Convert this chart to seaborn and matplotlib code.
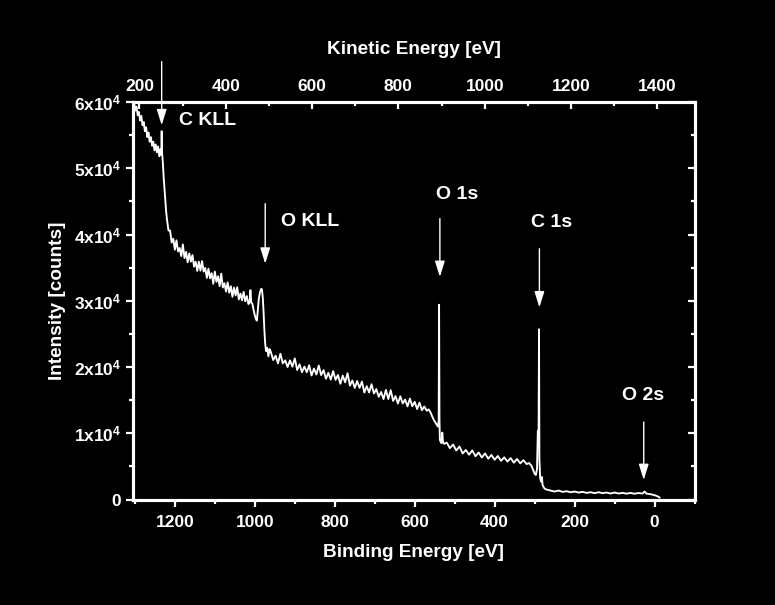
import matplotlib
matplotlib.use("Agg")
import matplotlib.pyplot as plt
import numpy as np
import pandas as pd
import seaborn as sns
from matplotlib.ticker import MultipleLocator, FuncFormatter

# ---------------- data ----------------
binding_energy = [
    1302, 1299, 1296, 1293, 1290, 1287, 1284, 1281, 1278, 1275, 1272, 1269, 1266, 1263,
    1260, 1257, 1254, 1251, 1248, 1245, 1242, 1239, 1236, 1234, 1233, 1232, 1230, 1228,
    1226, 1224, 1222, 1220, 1218, 1216,
    1212, 1208, 1204, 1200, 1196, 1192, 1188, 1184, 1180, 1176, 1172, 1168, 1164, 1160,
    1156, 1152, 1148, 1144, 1140, 1136, 1132, 1128, 1124, 1120, 1116, 1112, 1108, 1104,
    1100, 1096, 1092, 1088, 1084, 1080, 1076, 1072, 1068, 1064, 1060, 1056, 1052, 1048,
    1044, 1040, 1036, 1032, 1028, 1024, 1020, 1016,
    1013, 1011, 1009, 1006, 1003, 1000, 997, 995, 993, 990, 987, 984, 982, 980, 978,
    976, 974, 972, 969, 966, 963,
    960, 954, 948, 942, 936, 930, 924, 918, 912, 906, 900, 894, 888, 882, 876, 870,
    864, 858, 852, 846, 840, 834, 828, 822, 816, 810, 804, 798, 792, 786, 780, 774,
    768, 762, 756, 750, 744, 738, 732, 726, 720, 714, 708, 702, 696, 690, 684, 678,
    672, 666, 660, 654, 648, 642, 636, 630, 624, 618, 612, 606, 600, 594, 588, 582,
    576, 570, 565, 560, 556, 552, 548, 545, 542, 540, 539, 538, 537, 535, 533, 531,
    529, 526,
    520, 512, 504, 496, 488, 480, 472, 464, 456, 448, 440, 432, 424, 416, 408, 400,
    392, 384, 376, 368, 360, 352, 344, 336, 328, 320, 314, 308, 304, 300, 297, 294,
    292, 290, 289, 288, 286, 284, 282, 280, 277, 274,
    270, 260, 250, 240, 230, 220, 210, 200, 190, 180, 170, 160, 150, 140, 130, 120,
    110, 100, 90, 80, 70, 60, 50, 40, 30, 25, 20, 10, 0, -5, -10, -13,
]
intensity = [
    59900, 58700, 59300, 58000, 58500, 57200, 57900, 56500, 57000, 55600, 56200, 54700, 55400, 54000,
    54700, 53400, 54000, 52700, 53600, 52400, 53300, 51800, 52900, 52000, 55600, 52400, 50800, 48600,
    46900, 45100, 43600, 42400, 41500, 40600,
    40600, 38780, 39370, 37700, 39120, 37440, 37960, 36740, 38500, 36440, 37380, 35800, 37150, 35900,
    36900, 35150, 35900, 34500, 35900, 34550, 36000, 34400, 34950, 33450, 34840, 33380, 34170, 32560,
    34400, 32850, 33700, 32200, 34100, 32000, 32640, 31380, 32770, 31210, 32200, 30590, 31980, 30820,
    32060, 30200, 31080, 30060, 31340, 29920, 30700, 29500,
    29700, 31600, 29800, 29500, 28600, 27800, 27200, 27000, 28200, 30300, 31300, 31800, 31700, 30400, 28200,
    25500, 23500, 22400, 22900, 21600, 22700,
    22300, 21050, 21700, 20550, 22000, 20550, 21000, 20000, 21000, 20050, 21300, 19550, 20400, 19210, 20060, 19210,
    20260, 18720, 19770, 18870, 20230, 18780, 19530, 18230, 19120, 18100, 19380, 18060, 18790, 17470, 18700, 17680,
    19060, 17190, 17970, 16850, 17880, 16850, 17800, 16150, 17100, 16150, 17400, 16000, 16670, 15500, 16230, 15160,
    16540, 15170, 16500, 14880, 15610, 14490, 15570, 14500, 15080, 14060, 15240, 14070, 14750, 13660, 14620, 13480,
    14040, 13400, 13600, 13100, 12500, 12000, 11600, 11300, 11000, 11800, 29400, 12000, 9000, 8700, 8500, 10100,
    8600, 8400,
    8600, 7750, 8300, 7400, 8000, 6950, 7480, 6760, 7410, 6530, 7100, 6330, 6960, 6160, 6730, 6000,
    6570, 5840, 6360, 5730, 6250, 5560, 6120, 5460, 5930, 5350, 5500, 5100, 4500, 3900, 3700, 4600,
    10300, 10600, 25700, 6000, 3200, 2700, 3400, 2200, 1800, 1600,
    1500, 1350, 1200, 1350, 1150, 1250, 1100, 1200, 1050, 1150, 1000, 1100, 950, 1100, 950, 1050,
    900, 1050, 900, 1000, 880, 990, 870, 980, 900, 1200, 880, 800, 650, 550, 400, 280,
]

peak_labels = ["C KLL", "O KLL", "O 1s", "C 1s", "O 2s"]
peak_be = [1233, 974, 537, 288, 27]           # arrow positions (binding energy)
arrow_top = [66100, 44650, 42400, 37850, 11700]
arrow_tip = [56500, 35600, 33600, 29000, 2950]
label_be = [1118, 861, 493, 258, 28]
label_y = [57200, 41900, 46000, 41800, 15640]

bottom_ticks = [1200, 1000, 800, 600, 400, 200, 0]
top_ticks = [200, 400, 600, 800, 1000, 1200, 1400]
y_ticks = [0, 10000, 20000, 30000, 40000, 50000, 60000]

# ---------------- style ----------------
sns.set_theme(style="dark")
FAM = ["Liberation Sans", "DejaVu Sans"]
plt.rcParams["font.family"] = FAM
plt.rcParams["font.weight"] = "bold"
plt.rcParams["mathtext.fontset"] = "custom"
plt.rcParams["mathtext.rm"] = "Liberation Sans:bold"
plt.rcParams["mathtext.bf"] = "Liberation Sans:bold"
plt.rcParams["mathtext.default"] = "rm"

fig = plt.figure(figsize=(7.75, 6.05), dpi=100, facecolor="black")
ax = fig.add_axes([132.5 / 775, 1 - 499.5 / 605, 562 / 775, 397.5 / 605])
ax.set_facecolor("black")
ax.grid(False)

df = pd.DataFrame({"Binding Energy": binding_energy, "Intensity": intensity})
sns.lineplot(data=df, x="Binding Energy", y="Intensity", ax=ax, color="white",
             lw=1.35, sort=False, estimator=None)

ax.set_xlim(1306, -100)
ax.set_ylim(0, 60000)
ax.set_xticks(bottom_ticks)
ax.xaxis.set_minor_locator(MultipleLocator(100))
ax.set_yticks(y_ticks)
ax.yaxis.set_minor_locator(MultipleLocator(5000))
ax.yaxis.set_major_formatter(FuncFormatter(
    lambda v, p: "0" if v == 0 else f"{int(round(v / 1e4))}x10$^{{4}}$"))

TICKFS = 12.5
LABFS = 13.7
ax.tick_params(axis="both", which="major", direction="out", length=5, width=1.6,
               color="white", labelcolor="white", labelsize=TICKFS, pad=3)
ax.tick_params(axis="both", which="minor", direction="out", length=2.8, width=1.6,
               color="white")
ax.tick_params(axis="x", which="major", pad=6)
for lab in ax.get_xticklabels() + ax.get_yticklabels():
    lab.set_fontweight("bold")

for s in ax.spines.values():
    s.set_color("white")
    s.set_linewidth(2.2)

ax.set_xlabel("Binding Energy [eV]", fontsize=LABFS, fontweight="bold", color="white", labelpad=10)
ax.set_ylabel("Intensity [counts]", fontsize=LABFS, fontweight="bold", color="white", labelpad=6)

# top axis: kinetic energy
ax2 = ax.twiny()
ax2.set_xlim(184, 1486)
ax2.set_xticks(top_ticks)
ax2.xaxis.set_minor_locator(MultipleLocator(100))
ax2.tick_params(axis="x", which="major", direction="in", length=5, width=1.6,
                color="white", labelcolor="white", labelsize=TICKFS, pad=5.5)
ax2.tick_params(axis="x", which="minor", direction="in", length=2.8, width=1.6, color="white")
for lab in ax2.get_xticklabels():
    lab.set_fontweight("bold")
ax2.set_xlabel("Kinetic Energy [eV]", fontsize=LABFS, fontweight="bold", color="white", labelpad=18)
for s in ax2.spines.values():
    s.set_color("white")
    s.set_linewidth(2.2)
ax2.grid(False)

# right axis: inward ticks only
ax3 = ax.twinx()
ax3.set_ylim(0, 60000)
ax3.set_yticks(y_ticks)
ax3.yaxis.set_minor_locator(MultipleLocator(5000))
ax3.tick_params(axis="y", which="major", direction="in", length=5, width=1.6,
                color="white", labelright=False)
ax3.tick_params(axis="y", which="minor", direction="in", length=2.8, width=1.6, color="white")
for s in ax3.spines.values():
    s.set_color("white")
    s.set_linewidth(2.2)
ax3.grid(False)

# peak annotations
for name, xb, yt, yp, lx, ly in zip(peak_labels, peak_be, arrow_top, arrow_tip, label_be, label_y):
    ax.annotate("", xy=(xb, yp), xytext=(xb, yt),
                arrowprops=dict(arrowstyle="-|>,head_length=0.8,head_width=0.25",
                                color="white", lw=1.0, shrinkA=0, shrinkB=0),
                annotation_clip=False)
    ax.text(lx, ly, name, ha="center", va="center", color="white", fontsize=14,
            fontweight="bold", family=FAM, clip_on=False)

fig.savefig("out.png", dpi=100, facecolor="black")
